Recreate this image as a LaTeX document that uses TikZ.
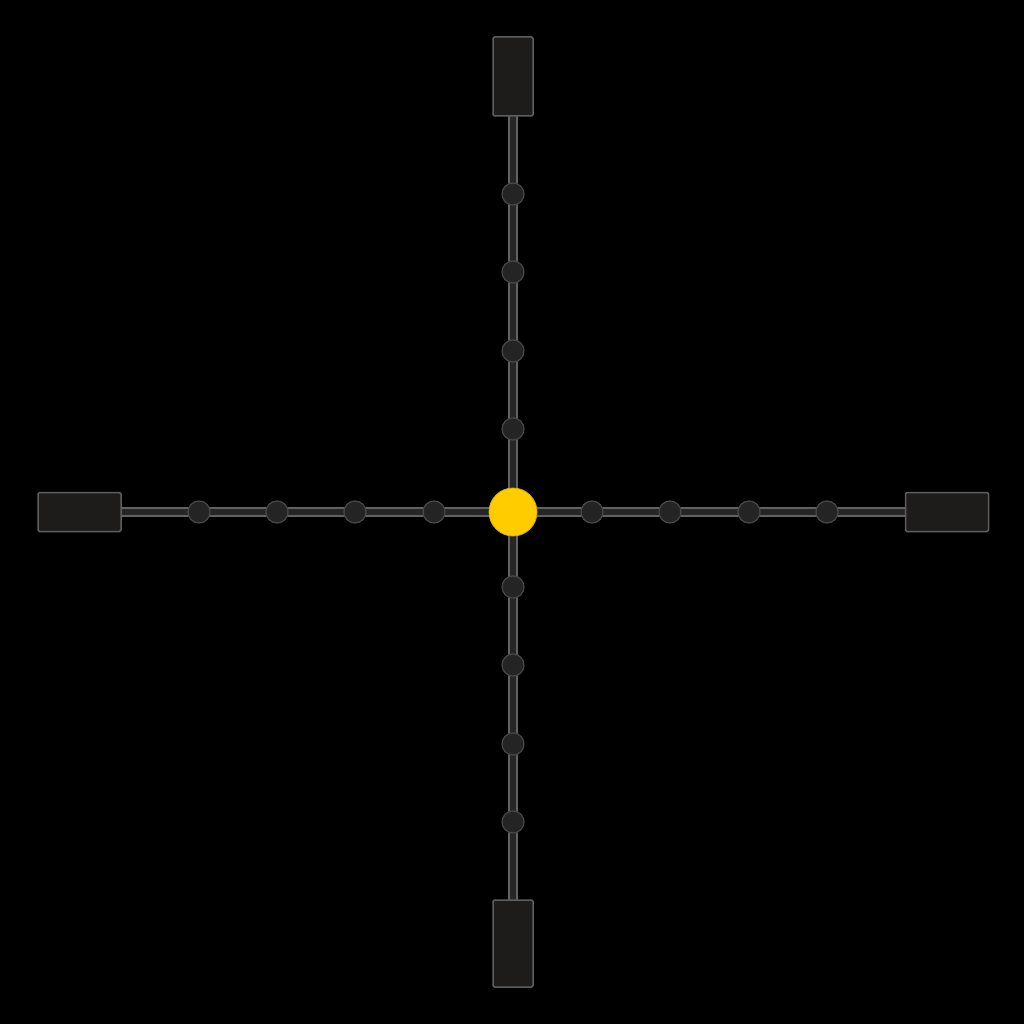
\documentclass[tikz,border=0pt]{standalone}
\usetikzlibrary{positioning}
\pgfdeclarelayer{back}
\pgfdeclarelayer{edges}
\pgfsetlayers{back,edges,main}
\definecolor{boxfill}{HTML}{1E1B1B}
\definecolor{boxedge}{HTML}{5E5E5E}
\definecolor{linefill}{HTML}{272626}
\definecolor{lineedge}{HTML}{626262}
\definecolor{dotfill}{HTML}{242424}
\definecolor{dotedge}{HTML}{484848}
\definecolor{hub}{HTML}{FFCC00}
\tikzset{
  endbox/.style={draw=boxedge, fill=boxfill, line width=1.5pt, rounded corners=1.5pt, inner sep=0pt},
  vbox/.style={endbox, minimum width=40pt},
  hbox/.style={endbox, minimum width=83pt, minimum height=39pt},
  dot/.style={circle, draw=dotedge, fill=dotfill, line width=1.2pt, minimum size=22pt, inner sep=0pt},
  hubdot/.style={circle, draw=hub!85!black, fill=hub, line width=0.8pt, minimum size=48pt, inner sep=0pt},
  wire/.style={draw=lineedge, line width=1.5pt, double=linefill, double distance=6.5pt}
}
\begin{document}
\begin{tikzpicture}[x=1pt,y=-1pt]
\begin{pgfonlayer}{back}
\fill[black] (0,0) rectangle (1024,1024);
\end{pgfonlayer}
\useasboundingbox (0,0) rectangle (1024,1024);
% end boxes
\node[vbox, minimum height=79pt] (T) at (513,76.5) {};
\node[vbox, minimum height=87pt] (B) at (513,943.5) {};
\node[hbox] (L) at (79.5,512) {};
\node[hbox] (R) at (947,512) {};
% hub
\node[hubdot] (C) at (513,512) {};
% vertical dots
\node[dot] (u1) at (513,194) {};
\node[dot] (u2) at (513,272) {};
\node[dot] (u3) at (513,351) {};
\node[dot] (u4) at (513,429) {};
\node[dot] (d1) at (513,587) {};
\node[dot] (d2) at (513,665) {};
\node[dot] (d3) at (513,744) {};
\node[dot] (d4) at (513,822) {};
% horizontal dots
\node[dot] (l1) at (199,512) {};
\node[dot] (l2) at (277,512) {};
\node[dot] (l3) at (355,512) {};
\node[dot] (l4) at (434,512) {};
\node[dot] (r1) at (592,512) {};
\node[dot] (r2) at (670,512) {};
\node[dot] (r3) at (749,512) {};
\node[dot] (r4) at (827,512) {};
\begin{pgfonlayer}{edges}
\draw[wire] (T.center) -- (u1.center) -- (u2.center) -- (u3.center) -- (u4.center) -- (C.center)
  -- (d1.center) -- (d2.center) -- (d3.center) -- (d4.center) -- (B.center);
\draw[wire] (L.center) -- (l1.center) -- (l2.center) -- (l3.center) -- (l4.center) -- (C.center)
  -- (r1.center) -- (r2.center) -- (r3.center) -- (r4.center) -- (R.center);
\end{pgfonlayer}
\end{tikzpicture}
\end{document}
